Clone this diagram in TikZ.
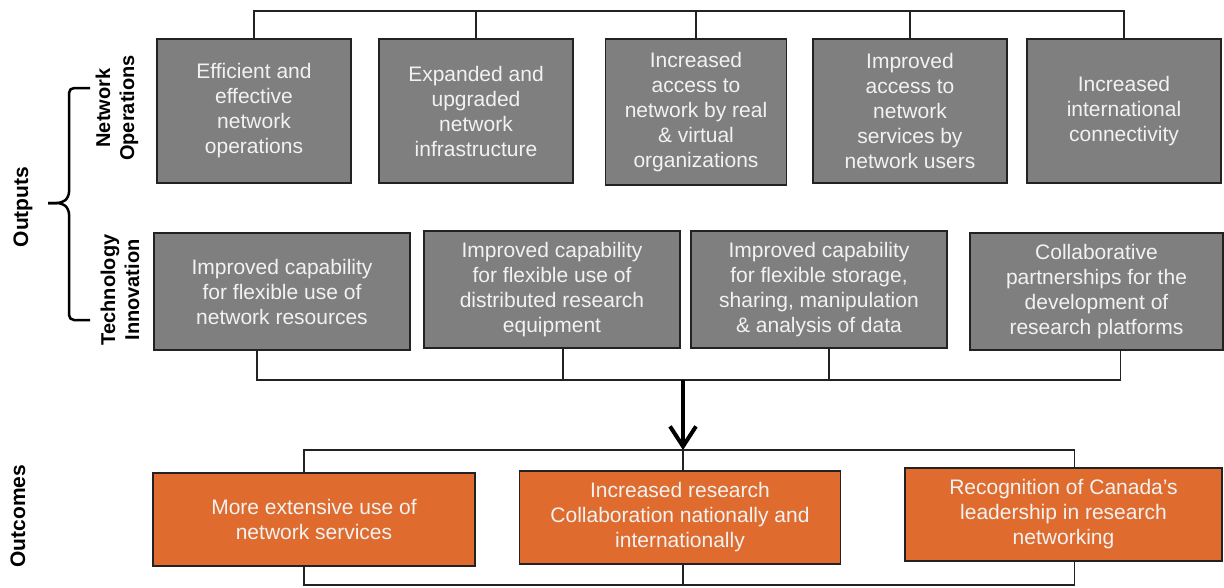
\documentclass[tikz,border=0pt]{standalone}
\usepackage{fontspec}
\setmainfont{Liberation Sans}
\usetikzlibrary{arrows.meta}

\definecolor{boxgray}{RGB}{127,127,127}
\definecolor{boxorange}{RGB}{223,108,46}
\definecolor{boxtext}{RGB}{242,242,242}
\definecolor{edgegray}{RGB}{34,34,34}

\begin{document}
\begin{tikzpicture}[x=1pt,y=-1pt,
                    outbox/.style={draw=edgegray,line width=1.5pt,fill=boxgray,text=boxtext,align=center,
                                   inner sep=0pt,font=\fontsize{21}{25}\selectfont},
                    netbox/.style={outbox,minimum width=194pt,minimum height=144pt},
                    techbox/.style={outbox,minimum width=256pt,minimum height=117pt},
                    resultbox/.style={outbox,fill=boxorange,minimum width=321pt,minimum height=93pt},
                    link/.style={draw=edgegray,line width=1.5pt},
                    sidelabel/.style={rotate=90,align=center,font=\bfseries\fontsize{20}{24}\selectfont}]

    \useasboundingbox[fill=white] (0,0) rectangle (1224,587);

    \coordinate (topbus) at (0,11);
    \coordinate (outbus) at (0,380);
    \coordinate (inbus) at (0,450);
    \coordinate (lowbus) at (0,585);

    \node[netbox] (no1) at (254,111) {Efficient and\\effective\\network\\operations};
    \node[netbox] (no2) at (476,111) {Expanded and\\upgraded\\network\\infrastructure};
    \node[netbox,minimum width=181pt,minimum height=146pt] (no3) at (696,112) {Increased\\access to\\network by real\\\& virtual\\organizations};
    \node[netbox] (no4) at (910,111) {Improved\\access to\\network\\services by\\network users};
    \node[netbox] (no5) at (1124,111) {Increased\\international\\connectivity};

    \node[techbox] (ti1) at (282,291.5) {Improved capability\\for flexible use of\\network resources};
    \node[techbox] (ti2) at (552,289.5) {Improved capability\\for flexible use of\\distributed research\\equipment};
    \node[techbox] (ti3) at (819,289.5) {Improved capability\\for flexible storage,\\sharing, manipulation\\\& analysis of data};
    \node[techbox,minimum width=253pt] (ti4) at (1096.5,291.5) {Collaborative\\partnerships for the\\development of\\research platforms};

    \node[resultbox,minimum width=322pt] (oc1) at (314,519.5) {More extensive use of\\network services};
    \node[resultbox] (oc2) at (680,517.5) {Increased research\\Collaboration nationally and\\internationally};
    \node[resultbox,minimum width=317pt] (oc3) at (1063.5,514.5) {Recognition of Canada's\\leadership in research\\networking};

    \node[sidelabel,font=\bfseries\fontsize{21}{25}\selectfont] (outputs) at (23,207) {Outputs};
    \node[sidelabel] (netops) at (117,108) {Network\\Operations};
    \node[sidelabel] (techinn) at (120,290) {Technology\\Innovation};
    \node[sidelabel,font=\bfseries\fontsize{21}{25}\selectfont] (outcomes) at (18,516) {Outcomes};

    \draw[line width=2.5pt,rounded corners=5pt] (90,88) -- (69,88) -- (69,197) -- (62,203) -- (48,203);
    \draw[line width=2.5pt,rounded corners=5pt] (90,320) -- (69,320) -- (69,209) -- (62,203) -- (48,203);

    \draw[link] (no1.north) |- (no5.north |- topbus) -- (no5.north);
    \draw[link] (no2.north) -- (no2.north |- topbus);
    \draw[link] (no3.north) -- (no3.north |- topbus);
    \draw[link] (no4.north) -- (no4.north |- topbus);

    \draw[link] ([xshift=-25pt]ti1.south) |- ([xshift=24pt]ti4.south |- outbus) -- ([xshift=24pt]ti4.south);
    \draw[link] ([xshift=11pt]ti2.south) -- ([xshift=11pt]ti2.south |- outbus);
    \draw[link] ([xshift=10pt]ti3.south) -- ([xshift=10pt]ti3.south |- outbus);

    \draw[line width=4pt,-{Straight Barb[length=20pt,width=26pt]}] ([xshift=3pt]oc2.north |- outbus) -- ([xshift=3pt]oc2.north |- inbus);

    \draw[link] ([xshift=-10pt]oc1.north) |- ([xshift=11pt]oc3.north |- inbus) -- ([xshift=11pt]oc3.north);
    \draw[link] ([xshift=3pt]oc2.north) -- ([xshift=3pt]oc2.north |- inbus);
    \draw[link] ([xshift=-10pt]oc1.south) |- ([xshift=11pt]oc3.south |- lowbus) -- ([xshift=11pt]oc3.south);
    \draw[link] ([xshift=3pt]oc2.south) -- ([xshift=3pt]oc2.south |- lowbus);
\end{tikzpicture}
\end{document}
